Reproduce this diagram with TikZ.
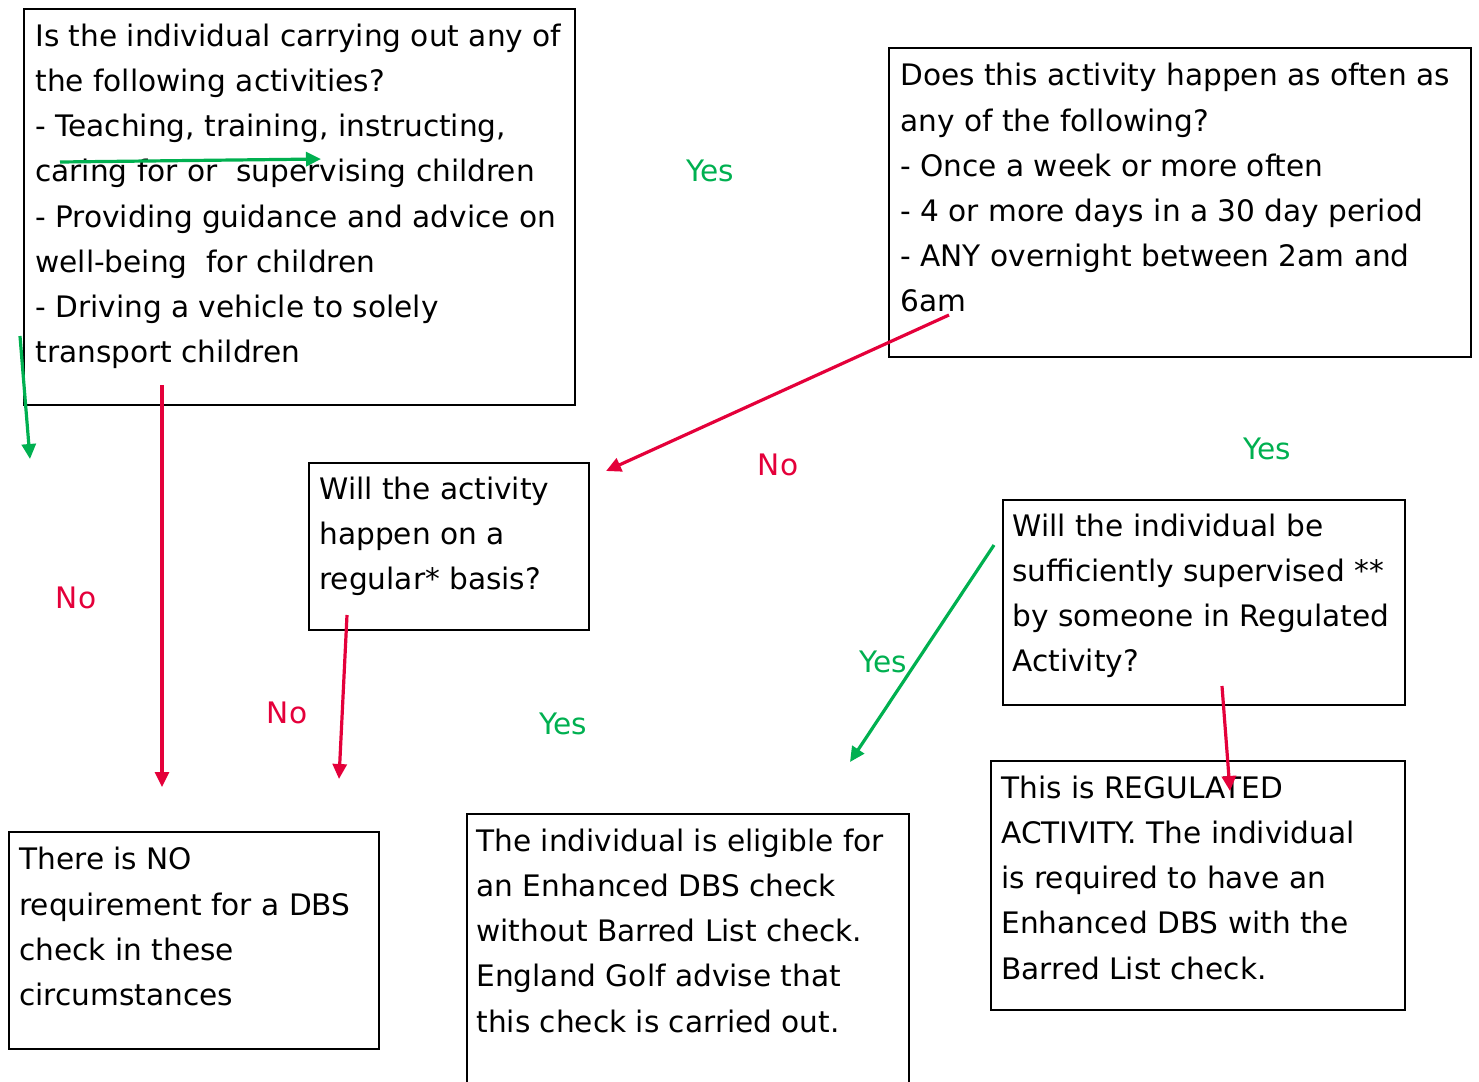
\documentclass[tikz,border=0pt]{standalone}
\usepackage{fontspec}
\setmainfont{DejaVu Sans}
\usepackage{tikz}
\usetikzlibrary{arrows.meta}

\begin{document}
\begin{tikzpicture}[x=0.5pt,y=-0.5pt]
		\definecolor{yesgreen}{RGB}{0,176,80}
		\definecolor{nored}{RGB}{228,0,58}
		\tikzstyle{box} = [rectangle, draw=black, line width=0.95pt, anchor=north west, inner sep=0pt]
		\tikzstyle{boxtext} = [anchor=north west, inner sep=0pt, align=left, font=\fontsize{14.8}{22.6}\selectfont]
		\tikzstyle{yeslabel} = [text=yesgreen, font=\fontsize{14.8}{18}\selectfont]
		\tikzstyle{nolabel} = [text=nored, font=\fontsize{14.8}{18}\selectfont]
		\tikzstyle{yesarrow} = [draw=yesgreen, line width=1.6pt, -{Triangle[length=7.5pt,width=7pt]}]
		\tikzstyle{noarrow} = [draw=nored, line width=1.6pt, -{Triangle[length=7.5pt,width=7pt]}]

		\useasboundingbox (0,0) rectangle (1479,1082);

		% boxes
		\node (activities) [box, minimum width=275.5pt, minimum height=198pt] at (23,8) {};
		\node (often) [box, minimum width=291pt, minimum height=154.5pt] at (888,47) {};
		\node (regular) [box, minimum width=140pt, minimum height=83.5pt] at (308,462) {};
		\node (supervised) [box, minimum width=201pt, minimum height=102.5pt] at (1002,499) {};
		\node (nodbs) [box, minimum width=185pt, minimum height=108.5pt] at (8,831) {};
		\node (eligible) [box, minimum width=221pt, minimum height=150pt] at (466,813) {};
		\node (regulated) [box, minimum width=207pt, minimum height=124.5pt] at (990,760) {};

		% box texts
		\node (activitiestext) [boxtext] at (35,23.5) {Is the individual carrying out any of\\the following activities?\\- Teaching, training, instructing,\\caring for or~ supervising children\\- Providing guidance and advice on\\well-being~ for children\\- Driving a vehicle to solely\\transport children};
		\node (oftentext) [boxtext] at (900,63) {Does this activity happen as often as\\any of the following?\\- Once a week or more often\\- 4 or more days in a 30 day period\\- ANY overnight between 2am and\\6am};
		\node (regulartext) [boxtext] at (319,476.5) {Will the activity\\happen on a\\regular* basis?};
		\node (supervisedtext) [boxtext] at (1012,513.5) {Will the individual be\\sufficiently supervised **\\by someone in Regulated\\Activity?};
		\node (nodbstext) [boxtext] at (19,847) {There is NO\\requirement for a DBS\\check in these\\circumstances};
		\node (eligibletext) [boxtext] at (476,828.5) {The individual is eligible for\\an Enhanced DBS check\\without Barred List check.\\England Golf advise that\\this check is carried out.};
		\node (regulatedtext) [boxtext] at (1001,775.5) {This is REGULATED\\ACTIVITY. The individual\\is required to have an\\Enhanced DBS with the\\Barred List check.};

		% labels
		\node (yes1) [yeslabel] at (710,171) {Yes};
		\node (yes2) [yeslabel] at (1267,449) {Yes};
		\node (yes3) [yeslabel] at (563,724) {Yes};
		\node (yes4) [yeslabel] at (883,662) {Yes};
		\node (no1) [nolabel] at (778,465) {No};
		\node (no2) [nolabel] at (76,598) {No};
		\node (no3) [nolabel] at (287,713) {No};

		% arrow ends
		\coordinate (a1s) at (60,162);
		\coordinate (a1e) at (321,159);
		\coordinate (a2s) at (20,336);
		\coordinate (a2e) at (30,459);
		\coordinate (a3s) at (162,385);
		\coordinate (a3e) at (162,787);
		\coordinate (a4s) at (949,315);
		\coordinate (a4e) at (606,471);
		\coordinate (a5s) at (347,615);
		\coordinate (a5e) at (339,779);
		\coordinate (a6s) at (994,545);
		\coordinate (a6e) at (850,762);
		\coordinate (a7s) at (1222,686);
		\coordinate (a7e) at (1230,791);

		\draw [yesarrow] (a1s) -- (a1e);
		\draw [yesarrow] (a2s) -- (a2e);
		\draw [noarrow] (a3s) -- (a3e);
		\draw [noarrow] (a4s) -- (a4e);
		\draw [noarrow] (a5s) -- (a5e);
		\draw [yesarrow] (a6s) -- (a6e);
		\draw [noarrow] (a7s) -- (a7e);
	\end{tikzpicture}
\end{document}
